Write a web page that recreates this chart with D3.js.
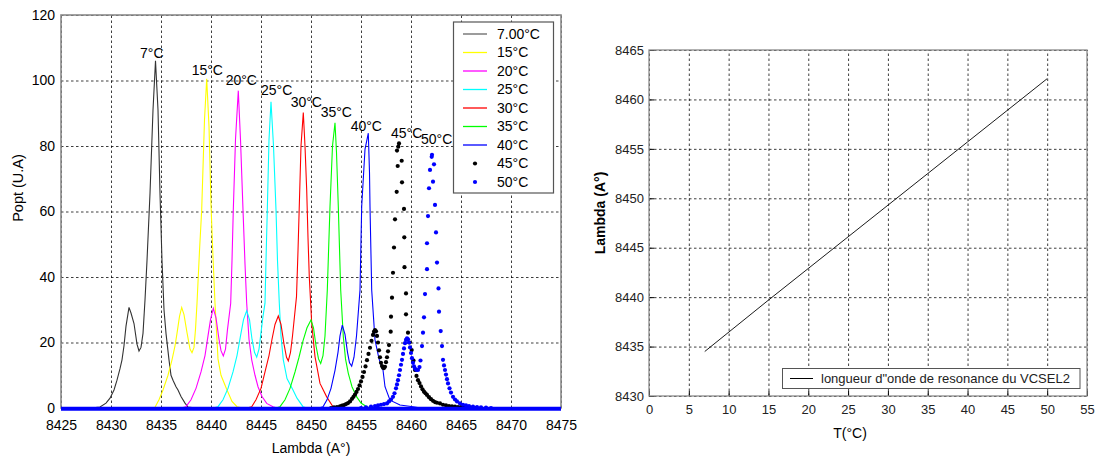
<!DOCTYPE html>
<html><head><meta charset="utf-8">
<script src="https://cdn.jsdelivr.net/npm/d3@7"></script>
<style>
body{margin:0;background:#fff;}
svg{display:block;font-family:Arial,"Liberation Sans",sans-serif;}
</style></head>
<body><svg id="c" width="1098" height="458"></svg>
<script>
// ---------- DATA (left chart: spectra) ----------
const seriesNames = ["7.00°C","15°C","20°C","25°C","30°C","35°C","40°C","45°C","50°C"];
const seriesColors = ["#000000","#ffff00","#ff00ff","#00ffff","#ff0000","#00ff00","#0000ff","#000000","#0000ff"];
const seriesKind = ["line","line","line","line","line","line","line","dot","dot"];

const s7 = [[8428.0,0],[8428.9,0.3],[8429.5,1.5],[8429.9,3],[8430.3,5.5],[8430.6,8.5],[8430.9,12],[8431.1,14.7],[8431.3,19],[8431.5,25],[8431.8,30.7],[8432.0,29],[8432.3,25.8],[8432.6,19.5],[8432.8,17.4],[8433.0,18.5],[8433.2,22.8],[8433.4,33],[8433.6,45],[8433.9,65.5],[8434.2,91],[8434.45,106],[8434.7,91],[8434.9,65.5],[8435.1,45],[8435.3,30],[8435.5,22.8],[8435.8,14.7],[8436.0,10],[8436.2,8.5],[8436.5,6.5],[8436.7,5.5],[8437.0,3.5],[8437.4,1.5],[8437.7,0.3],[8438.5,0]];
const s15 = [[8433.8,0],[8434.4,0.2],[8434.8,2.5],[8435.2,5.5],[8435.7,10],[8436.1,14.7],[8436.4,19],[8436.6,22.8],[8436.85,28],[8437.07,30.7],[8437.3,28.5],[8437.6,23],[8437.9,18],[8438.1,16.9],[8438.3,18.5],[8438.45,24],[8438.6,32],[8438.85,48],[8439.07,60.5],[8439.35,88],[8439.57,100.5],[8439.8,86],[8440.0,62],[8440.2,46],[8440.4,32],[8440.7,15],[8441.0,10],[8441.6,5.5],[8442.1,2],[8442.6,0.4],[8443.2,0]];
const s20 = [[8437.0,0],[8437.5,0.4],[8438.0,2.5],[8438.5,6],[8439.0,11],[8439.4,16],[8439.7,22],[8439.95,27],[8440.23,30.4],[8440.5,27.5],[8440.8,21],[8441.0,17.5],[8441.23,15.9],[8441.45,18],[8441.65,24],[8441.97,32],[8442.1,45],[8442.23,60.5],[8442.45,82],[8442.73,96.9],[8442.95,82],[8443.2,60.5],[8443.4,44],[8443.57,32],[8443.8,21],[8444.07,14.7],[8444.4,10],[8444.7,6.5],[8445.1,3.5],[8445.57,1.4],[8446.2,0.4],[8446.6,0]];
const s25 = [[8440.2,0],[8440.7,0.4],[8441.2,2.5],[8441.7,6],[8442.2,11],[8442.6,16],[8442.95,22],[8443.25,27],[8443.57,29.7],[8443.85,27],[8444.1,21],[8444.35,17],[8444.57,15.5],[8444.8,18],[8445.0,23],[8445.2,28],[8445.4,32],[8445.5,45],[8445.63,60.5],[8445.8,82],[8446.0,93.5],[8446.25,80],[8446.5,60.5],[8446.65,45],[8446.83,32],[8447.0,22],[8447.23,14.7],[8447.6,9],[8448.2,5.5],[8448.6,3],[8449.2,0.4],[8449.6,0]];
const s30 = [[8443.6,0],[8444.07,0.4],[8444.5,2.5],[8445.0,6],[8445.4,11],[8445.8,16],[8446.1,21],[8446.4,25.5],[8446.73,28.1],[8447.0,25.5],[8447.3,19.5],[8447.55,15.5],[8447.73,14.4],[8447.95,17],[8448.15,22],[8448.35,28],[8448.55,34],[8448.7,48],[8448.85,64],[8449.0,80],[8449.23,90.2],[8449.4,80],[8449.57,66.6],[8449.7,52],[8449.83,40],[8450.07,25.9],[8450.4,15.7],[8450.9,7.5],[8451.57,3.4],[8452.2,0.4],[8452.6,0]];
const s35 = [[8446.5,0],[8446.9,0.4],[8447.4,2.5],[8447.9,6],[8448.4,11],[8448.8,15.5],[8449.2,20.5],[8449.6,24.5],[8450.0,26.9],[8450.25,24.5],[8450.5,19],[8450.75,15],[8450.97,13.6],[8451.2,16],[8451.4,22],[8451.63,36],[8451.9,61.5],[8452.15,80],[8452.4,87.1],[8452.55,78],[8452.73,61.5],[8452.97,36],[8453.23,21.8],[8453.45,15],[8453.73,10.6],[8454.1,6.5],[8454.57,3.4],[8455.0,1.5],[8455.57,0.4],[8456.0,0]];
const s40 = [[8450.8,0],[8451.2,0.4],[8451.6,2.5],[8452.0,6],[8452.4,11.5],[8452.7,17],[8452.9,22],[8453.13,25.3],[8453.4,22.5],[8453.65,17],[8453.85,13.8],[8454.07,12.8],[8454.3,15.5],[8454.55,22],[8454.75,30],[8454.9,36],[8455.07,61.5],[8455.4,79],[8455.73,83.9],[8455.85,72],[8455.9,61.5],[8456.07,36],[8456.4,20.8],[8456.8,15],[8457.2,11.6],[8457.4,6.5],[8457.9,2.4],[8458.9,0.9],[8460.2,0.4],[8461,0]];
const s45 = [[8452.0,0],[8452.3,0.2],[8452.6,0.3],[8452.9,0.5],[8453.1,0.7],[8453.3,0.9],[8453.5,1.2],[8453.7,1.5],[8453.9,2.0],[8454.1,2.8],[8454.25,3.4],[8454.4,4.1],[8454.55,4.9],[8454.7,5.8],[8454.85,6.9],[8455.0,8.1],[8455.15,9.5],[8455.3,11.0],[8455.45,12.7],[8455.6,14.6],[8455.75,16.5],[8455.9,18.4],[8456.05,20.5],[8456.2,22.3],[8456.3,23.3],[8456.4,23.8],[8456.5,23.4],[8456.6,22.0],[8456.7,20.0],[8456.8,17.6],[8456.9,15.5],[8457.0,13.8],[8457.1,12.8],[8457.2,12.3],[8457.3,12.2],[8457.4,12.6],[8457.5,14.0],[8457.6,15.5],[8457.7,17.3],[8457.8,19.2],[8457.97,23.3],[8458.0,27.9],[8458.1,33.7],[8458.2,41.3],[8458.3,49],[8458.4,57.6],[8458.57,66],[8458.67,73.9],[8458.6,78.6],[8458.73,79.8],[8458.8,80.8],[8459.07,75.5],[8459.1,68.9],[8459.3,60.8],[8459.33,52.1],[8459.35,43],[8459.5,35],[8459.5,28.6],[8459.7,23],[8459.85,20],[8460.07,17.7],[8460.25,14.5],[8460.4,11.6],[8460.55,9.8],[8460.7,8.5],[8460.85,7.6],[8461.0,6.6],[8461.15,5.7],[8461.3,5.0],[8461.45,4.5],[8461.6,4.0],[8461.8,3.3],[8462.0,2.7],[8462.2,2.2],[8462.4,1.8],[8462.6,1.6],[8462.9,1.4],[8463.2,1.0],[8463.5,0.8],[8463.8,0.6],[8464.1,0.5],[8464.4,0.4],[8464.7,0.3],[8465.0,0.3],[8465.3,0.2],[8465.6,0.2],[8466.0,0.1],[8466.5,0]];
const s50 = [[8455.0,0],[8455.5,0.2],[8456.0,0.4],[8456.4,0.6],[8456.7,0.8],[8457.0,1.0],[8457.3,1.2],[8457.6,1.4],[8457.8,2.0],[8458.0,2.6],[8458.2,3.4],[8458.35,4.5],[8458.5,6.0],[8458.6,7.2],[8458.7,8.5],[8458.8,10.0],[8458.9,11.6],[8459.0,13.2],[8459.1,14.7],[8459.2,16.5],[8459.3,18.2],[8459.4,19.8],[8459.5,20.8],[8459.6,21.3],[8459.7,21.0],[8459.8,20.0],[8459.9,18.5],[8460.0,16.8],[8460.1,15.2],[8460.2,13.8],[8460.3,12.7],[8460.4,12.0],[8460.55,11.6],[8460.7,11.6],[8460.85,12.5],[8460.95,14.5],[8461.1,18.9],[8461.2,23],[8461.3,27.7],[8461.4,34.8],[8461.6,42.4],[8461.6,50.3],[8461.7,58.6],[8461.8,67.1],[8461.9,72.7],[8462.07,76.7],[8462.1,77.3],[8462.3,74.4],[8462.2,69.1],[8462.4,62],[8462.5,53.6],[8462.6,44.4],[8462.75,36.5],[8462.8,29.4],[8462.97,23.5],[8463.1,18.9],[8463.2,14.7],[8463.3,13.0],[8463.4,11.6],[8463.5,10.2],[8463.6,8.8],[8463.7,7.5],[8463.85,6.0],[8464.0,4.7],[8464.2,3.4],[8464.4,2.6],[8464.6,2.0],[8464.9,1.4],[8465.2,1.0],[8465.5,0.8],[8465.8,0.6],[8466.2,0.4],[8466.6,0.3],[8467.0,0.2],[8467.5,0.1],[8468,0]];
const flat50 = [8425, 8475];   // 50°C samples sit on 0 across the whole range
const seriesData = [s7,s15,s20,s25,s30,s35,s40,s45,s50];

const peakLabels = ["7°C","15°C","20°C","25°C","30°C","35°C","40°C","45°C","50°C"];
const peakLabelX = [8432.9,8438.07,8441.47,8445.0,8447.97,8450.97,8453.97,8458.0,8461.0];
const peakLabelY = [108.4,103.2,100.2,97.1,93.5,90.2,86.1,83.9,82.1];

const xTicksL = [8425,8430,8435,8440,8445,8450,8455,8460,8465,8470,8475];
const yTicksL = [0,20,40,60,80,100,120];

// ---------- DATA (right chart) ----------
const tempC = [7,15,20,25,30,35,40,45,50];
const lambdaRes = [8434.5,8439.7,8442.9,8446.1,8449.3,8452.5,8455.7,8458.9,8462.1];
const xTicksR = [0,5,10,15,20,25,30,35,40,45,50,55];
const yTicksR = [8430,8435,8440,8445,8450,8455,8460,8465];
const rightLegend = "longueur d\"onde de resonance du VCSEL2";

// ---------- DRAW ----------
const svg = d3.select("#c");

// Left chart
const xL = d3.scaleLinear().domain([8425,8475]).range([61,561]);
const yL = d3.scaleLinear().domain([0,120]).range([408,15]);
const gL = svg.append("g");

function grid(g, x, y, xt, yt){
  const gx = g.append("g").attr("transform",`translate(0,${y.range()[0]})`)
    .call(d3.axisBottom(x).tickValues(xt).tickSize(-(y.range()[0]-y.range()[1])).tickFormat(""));
  const gy = g.append("g").attr("transform",`translate(${x.range()[0]},0)`)
    .call(d3.axisLeft(y).tickValues(yt).tickSize(-(x.range()[1]-x.range()[0])).tickFormat(""));
  [gx,gy].forEach(a=>{a.select(".domain").remove();
    a.selectAll(".tick line").attr("stroke","#000").attr("stroke-width",0.9).attr("stroke-dasharray","2.5,2.5").attr("opacity",0.85);});
}
grid(gL, xL, yL, xTicksL, yTicksL);

// tick labels
const axL = gL.append("g").attr("transform","translate(0,408)")
  .call(d3.axisBottom(xL).tickValues(xTicksL).tickSize(0).tickPadding(12).tickFormat(d3.format("d")));
axL.select(".domain").remove();
axL.selectAll("text").attr("font-size",14).attr("fill","#000").attr("font-family","Arial, 'Liberation Sans', sans-serif");
const ayL = gL.append("g").attr("transform","translate(61,0)")
  .call(d3.axisLeft(yL).tickValues(yTicksL).tickSize(0).tickPadding(6).tickFormat(d3.format("d")));
ayL.select(".domain").remove();
ayL.selectAll("text").attr("font-size",14).attr("fill","#000").attr("font-family","Arial, 'Liberation Sans', sans-serif");

// frame (under the data, as in the original)
gL.append("rect").attr("x",61).attr("y",15).attr("width",500).attr("height",393)
  .attr("fill","none").attr("stroke","#8a8a8a").attr("stroke-width",1.6);

// series
const lineGen = d3.line().x(d=>xL(d[0])).y(d=>yL(d[1]));
seriesData.forEach((data,i)=>{
  if(seriesKind[i]==="line"){
    gL.append("path").datum(data).attr("d",lineGen).attr("fill","none")
      .attr("stroke",i===0?"#333":seriesColors[i]).attr("stroke-width",1.1);
  }
});
seriesData.forEach((data,i)=>{
  if(seriesKind[i]==="dot"){
    gL.append("g").selectAll("circle").data(data).join("circle")
      .attr("cx",d=>xL(d[0])).attr("cy",d=>yL(d[1])).attr("r",2.1).attr("fill",seriesColors[i]);
  }
});
// 50°C flat samples forming the thick baseline
gL.append("line").attr("x1",xL(flat50[0])).attr("x2",xL(flat50[1]))
  .attr("y1",yL(0)+0.8).attr("y2",yL(0)+0.8).attr("stroke","#0000ff").attr("stroke-width",4);

// peak labels
gL.append("g").selectAll("text").data(peakLabels).join("text")
  .attr("x",(d,i)=>xL(peakLabelX[i])).attr("y",(d,i)=>yL(peakLabelY[i]))
  .attr("dy","0.35em").attr("font-size",14).attr("fill","#000").text(d=>d);

// axis titles
gL.append("text").attr("x",311).attr("y",448).attr("dy","0.35em").attr("text-anchor","middle")
  .attr("font-size",14).text("Lambda (A°)");
gL.append("text").attr("transform","translate(18,188) rotate(-90)").attr("dy","0.35em")
  .attr("text-anchor","middle").attr("font-size",14.5).text("Popt (U.A)");

// legend
const lg = gL.append("g");
lg.append("rect").attr("x",453.5).attr("y",22).attr("width",100).attr("height",171)
  .attr("fill","#fff").attr("stroke","#555").attr("stroke-width",1.2);
seriesNames.forEach((n,i)=>{
  const cy = 34 + i*18.5;
  if(seriesKind[i]==="line"){
    lg.append("line").attr("x1",463).attr("x2",487).attr("y1",cy).attr("y2",cy)
      .attr("stroke",i===0?"#666":seriesColors[i]).attr("stroke-width",1.3);
  } else {
    lg.append("circle").attr("cx",475).attr("cy",cy).attr("r",2.1).attr("fill",seriesColors[i]);
  }
  lg.append("text").attr("x",497).attr("y",cy).attr("dy","0.35em").attr("font-size",14).text(n);
});

// Right chart
const xR = d3.scaleLinear().domain([0,55]).range([649,1087]);
const yR = d3.scaleLinear().domain([8430,8465]).range([396,50]);
const gR = svg.append("g");
grid(gR, xR, yR, xTicksR, yTicksR);
const tkR = gR.append("g").attr("transform","translate(0,396)")
  .call(d3.axisBottom(xR).tickValues(xTicksR).tickSize(-5).tickPadding(10).tickFormat(d3.format("d")));
tkR.select(".domain").remove();
tkR.selectAll("line").attr("stroke","#000");
tkR.selectAll("text").attr("font-size",13).attr("fill","#222").attr("font-family","Arial, 'Liberation Sans', sans-serif").attr("dy","0.6em");
const tyR = gR.append("g").attr("transform","translate(649,0)")
  .call(d3.axisLeft(yR).tickValues(yTicksR).tickSize(-5).tickPadding(5).tickFormat(d3.format("d")));
tyR.select(".domain").remove();
tyR.selectAll("line").attr("stroke","#000");
tyR.selectAll("text").attr("font-size",13).attr("fill","#222").attr("font-family","Arial, 'Liberation Sans', sans-serif");

gR.append("path").datum(tempC.map((t,i)=>[t,lambdaRes[i]]))
  .attr("d",d3.line().x(d=>xR(d[0])).y(d=>yR(d[1])))
  .attr("fill","none").attr("stroke","#000").attr("stroke-width",0.9);

gR.append("rect").attr("x",649).attr("y",50).attr("width",438).attr("height",346)
  .attr("fill","none").attr("stroke","#8a8a8a").attr("stroke-width",1.3);

// right legend
gR.append("rect").attr("x",782.5).attr("y",368.5).attr("width",297.5).attr("height",20)
  .attr("fill","#fff").attr("stroke","#555").attr("stroke-width",1);
gR.append("line").attr("x1",790).attr("x2",813).attr("y1",378.5).attr("y2",378.5).attr("stroke","#000").attr("stroke-width",1);
gR.append("text").attr("x",821).attr("y",378.5).attr("dy","0.35em").attr("font-size",13).attr("fill","#222").text(rightLegend);

// right titles
gR.append("text").attr("x",850).attr("y",433).attr("dy","0.35em").attr("text-anchor","middle")
  .attr("font-size",14).text("T(°C)");
gR.append("text").attr("transform","translate(600,213) rotate(-90)").attr("dy","0.35em")
  .attr("text-anchor","middle").attr("font-size",14).attr("font-weight","bold").text("Lambda (A°)");
</script></body></html>
